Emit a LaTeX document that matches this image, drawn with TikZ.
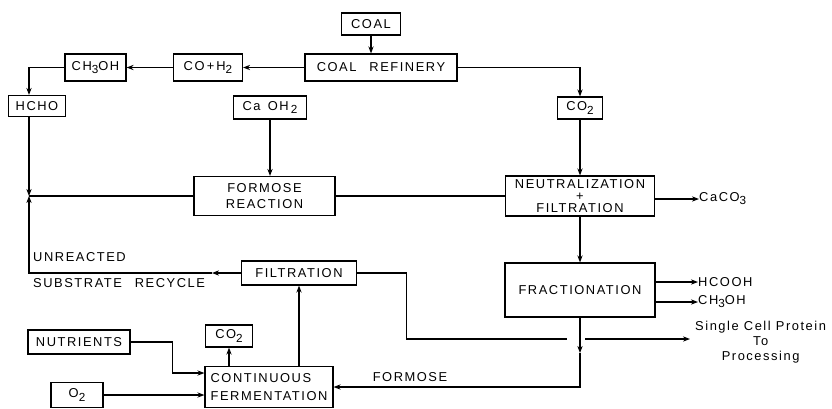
\documentclass[tikz,border=0pt]{standalone}
\usepackage{fontspec}
\setmainfont[LetterSpace=12]{Liberation Sans}
\usepackage{tikz}
\usetikzlibrary{shapes, arrows.meta, positioning, calc}

\newcommand{\chsub}[1]{\raisebox{-0.45ex}{\fontsize{10}{10}\selectfont #1}}

\begin{document}
\begin{tikzpicture}[
    x=0.03cm, y=-0.03cm,
    font=\fontsize{11}{13}\selectfont,
    block/.style={draw, line width=1pt, inner sep=1pt, align=center},
    arrow/.style={-{Stealth[length=6pt, width=4.5pt]}, line width=0.9pt},
    flow/.style={line width=0.9pt},
    tag/.style={inner sep=0pt, align=center}
]
    \useasboundingbox (0,0) rectangle (832,408);

    % coal side
    \node[block, minimum width=1.77cm, minimum height=0.66cm] (coal) at (371,24) {COAL};
    \node[block, minimum width=4.56cm, minimum height=0.81cm] (refinery) at (381,67.5) {COAL\quad REFINERY};
    \node[block, minimum width=2.07cm, minimum height=0.81cm] (syngas) at (208,67.5) {CO\,+\,H\chsub{2}};
    \node[block, minimum width=1.83cm, minimum height=0.81cm] (methanol) at (95.5,67.5) {CH\chsub{3}OH};
    \node[block, minimum width=1.71cm, minimum height=0.63cm] (hcho) at (37,106) {HCHO};
    \node[block, minimum width=2.19cm, minimum height=0.69cm] (caoh) at (270,107.5) {Ca\, OH\,\chsub{2}};
    \node[block, minimum width=1.35cm, minimum height=0.66cm] (co2top) at (580,108) {CO\chsub{2}};

    % main process
    \node[block, minimum width=4.23cm, minimum height=1.17cm] (formose) at (264.5,196) {FORMOSE\\REACTION};
    \node[block, minimum width=4.47cm, minimum height=1.2cm] (neutral) at (580,196) {NEUTRALIZATION\\[-3pt]+\\[-3pt]FILTRATION};
    \node[block, minimum width=4.5cm, minimum height=1.62cm] (fraction) at (580,290) {FRACTIONATION};
    \node[block, minimum width=3.45cm, minimum height=0.72cm] (filtration) at (299,273) {FILTRATION};
    \node[block, minimum width=3.06cm, minimum height=0.72cm] (nutrients) at (79,342) {NUTRIENTS};
    \node[block, minimum width=1.41cm, minimum height=0.66cm] (co2bot) at (229,336) {CO\chsub{2}};
    \node[block, minimum width=3.84cm, minimum height=1.23cm, align=left] (ferment) at (269,387) {CONTINUOUS\\[3pt]FERMENTATION};
    \node[block, minimum width=1.56cm, minimum height=0.75cm] (oxygen) at (77,395) {O\chsub{2}};

    % products and labels
    \node[tag, anchor=west] (caco3) at (699,199) {CaCO\chsub{3}};
    \node[tag, anchor=west] (hcooh) at (698,282) {HCOOH};
    \node[tag, anchor=west] (ch3oh) at (698,302) {CH\chsub{3}OH};
    \node[tag, anchor=west] (scp) at (695,342) {Single Cell Protein\\To\\Processing};
    \node[tag, anchor=west, align=left] (recycle) at (33,270) {UNREACTED\\[9pt]SUBSTRATE\quad RECYCLE};
    \node[tag] (formoselbl) at (410,377) {FORMOSE};

    \coordinate (join) at (29,196);
    \coordinate (recyclehead) at (212,273);
    \coordinate (fracmid) at (580,353);
    \coordinate (gapleft) at (567,339);
    \coordinate (gapright) at (585,339);

    % connectors
    \draw[arrow] (coal) -- (coal |- refinery.north);
    \draw[arrow] (refinery) -- (syngas);
    \draw[arrow] (syngas) -- (methanol);
    \draw[arrow] (methanol.west) -| (hcho.north -| join);
    \draw[arrow] (hcho.south -| join) -- (join);
    \draw[flow] (join) -- (formose);
    \draw[flow] (formose) -- (neutral);
    \draw[arrow] (caoh) -- (caoh |- formose.north);
    \draw[arrow] (refinery.east) -| (co2top.north);
    \draw[arrow] (co2top) -- (neutral);
    \draw[arrow] (neutral.east |- caco3.west) -- (caco3.west);
    \draw[arrow] (neutral) -- (fraction);
    \draw[arrow] (fraction.east |- hcooh.west) -- (hcooh.west);
    \draw[arrow] (fraction.east |- ch3oh.west) -- (ch3oh.west);
    \draw[arrow] (fraction.south) -- (fracmid);
    \draw[arrow] (fracmid) |- (ferment.east);
    \draw[arrow] (filtration.west) -- (recyclehead);
    \draw[arrow] (recyclehead) -| (join);
    \draw[flow] (filtration.east) -| ($(filtration.east)+(49,66)$) -- (gapleft);
    \draw[arrow] (gapright) -- ($(scp.west |- gapright)+(-5,0)$);
    \draw[arrow] (filtration.south |- ferment.north) -- (filtration.south);
    \draw[arrow] (co2bot.south |- ferment.north) -- (co2bot.south);
    \draw[arrow] (nutrients.east) -| ($(ferment.west)+(-32,-14)$) -- ($(ferment.west)+(0,-14)$);
    \draw[arrow] (oxygen) -- (oxygen -| ferment.west);
\end{tikzpicture}
\end{document}
